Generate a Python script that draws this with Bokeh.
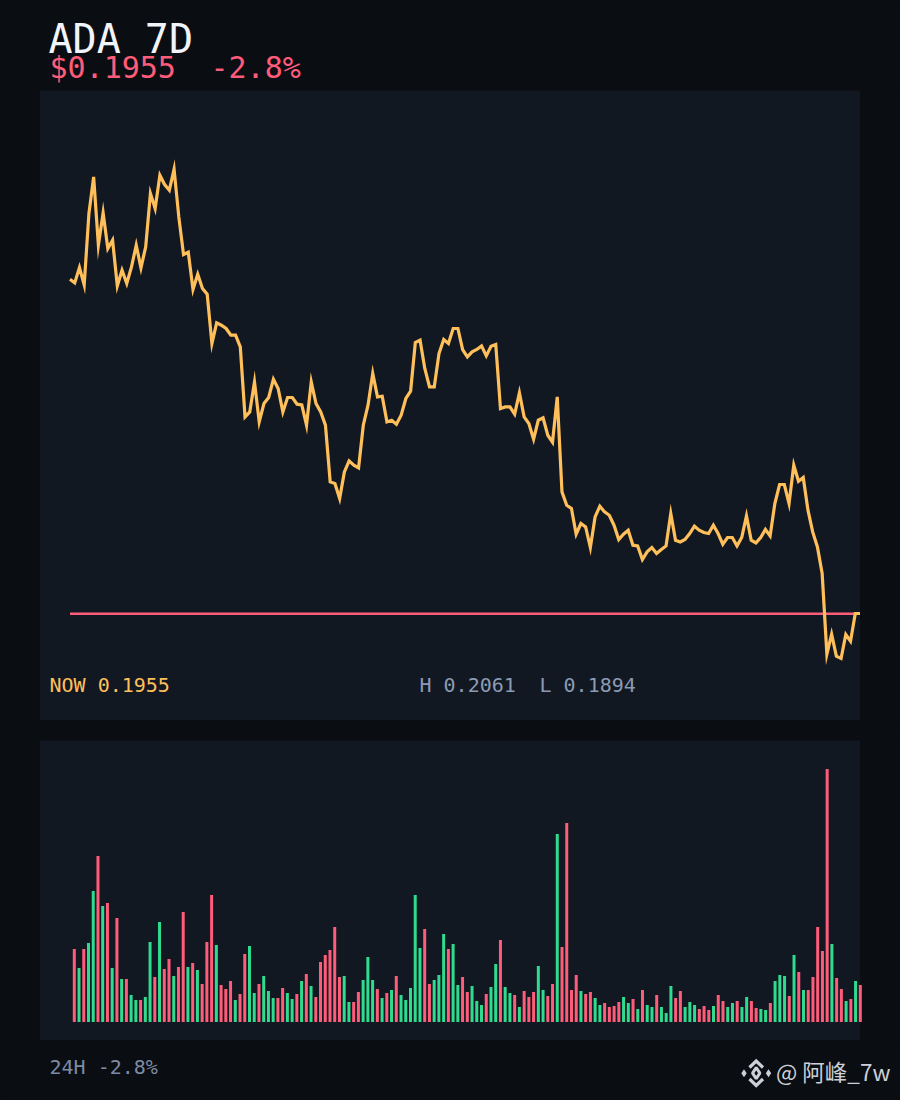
from bokeh.plotting import figure
from bokeh.layouts import column
from bokeh.models import Label, BoxAnnotation, Range1d
from bokeh.embed import file_html
from bokeh.resources import INLINE

# Hourly price, in units of 0.0001
price_bp = [
 2289.5,2285.8,2301.2,2283.8,2355.2,2391.8,2323.5,2355.8,2320.2,2328.5,2282.8,2298.5,2285.2,2301.8,2323.5,2300.8,
 2321.8,2375.2,2360.2,2393.5,2384.2,2378.5,2399.5,2351.8,2314.2,2316.5,2279.2,2294.5,2280.2,2274.5,2225.2,2245.8,
 2243.5,2240.2,2233.5,2233.5,2221.8,2151.8,2156.8,2186.8,2146.8,2165.2,2171.2,2189.5,2180.2,2156.8,2171.2,2171.2,
 2164.5,2163.8,2143.5,2186.8,2165.2,2156.8,2143.5,2086.8,2085.2,2070.2,2096.8,2107.8,2103.5,2100.8,2143.5,2163.5,
 2195.2,2171.8,2172.5,2146.8,2148.5,2144.5,2153.5,2170.2,2177.5,2226.2,2228.5,2200.2,2181.8,2181.8,2215.2,2229.2,
 2225.2,2240.2,2240.2,2219.2,2211.8,2216.8,2219.2,2222.8,2212.8,2222.5,2224.2,2160.2,2161.8,2161.8,2154.5,2175.8,
 2151.8,2145.2,2129.5,2148.5,2150.8,2133.5,2126.5,2171.8,2076.8,2063.5,2060.2,2034.5,2045.2,2041.8,2021.2,2051.8,
 2062.5,2056.8,2053.5,2043.5,2029.2,2034.5,2038.5,2023.5,2022.8,2009.2,2016.8,2021.2,2015.2,2019.2,2022.8,2055.2,
 2028.5,2026.8,2029.2,2035.2,2042.5,2038.5,2036.2,2035.2,2043.5,2035.2,2024.5,2031.2,2031.2,2022.8,2031.2,2052.8,
 2028.5,2025.8,2031.2,2039.2,2032.8,2065.2,2084.2,2084.2,2065.2,2103.5,2087.5,2091.2,2058.5,2036.8,2021.8,1995.2,
 1914.5,1934.5,1912.5,1910.2,1934.2,1927.5,1955.2,1955.2]
reference_bp = 1955

# Volume bars (arbitrary units)
volume = [
 73,54,73,79,131,166,116,119,54,104,43,43,27,22,22,25,80,45,100,53,63,46,55,110,55,59,52,38,80,127,77,37,33,41,
 22,28,68,76,29,38,46,31,24,24,34,29,23,28,41,48,36,25,60,67,72,95,45,46,20,20,30,42,65,42,33,24,29,32,46,27,
 22,34,127,74,93,38,42,47,88,73,78,37,45,30,36,21,17,28,35,58,82,35,29,27,15,31,25,30,56,32,26,38,188,75,199,
 32,47,31,28,30,24,17,19,15,16,20,25,19,23,13,32,17,15,27,15,9,36,24,31,15,20,17,13,16,12,16,27,21,15,19,21,15,
 25,21,14,13,12,19,41,47,46,26,67,50,32,32,45,95,71,253,78,44,33,21,23,41,37]
# 1 = up (green), 0 = down (red)
volume_up = [
 0,1,0,1,1,0,1,0,1,0,1,0,1,1,0,1,1,0,1,0,0,1,0,0,1,0,1,0,0,0,1,0,0,0,1,0,0,1,1,0,1,1,1,0,0,1,1,0,1,0,1,0,0,0,0,
 0,0,1,1,0,0,1,1,1,0,1,0,1,0,1,1,1,1,1,0,0,1,1,1,0,1,1,0,0,1,1,1,0,1,1,0,1,1,0,1,0,0,0,1,1,0,0,1,0,0,0,0,1,0,0,
 1,1,0,0,0,0,1,1,0,1,0,1,1,0,1,1,1,0,0,1,1,1,0,0,0,1,0,0,1,1,0,1,1,0,0,1,1,0,1,1,1,0,1,0,1,0,0,0,0,0,1,0,0,1,0,1,0]

title_text = "ADA 7D"
price_text = "$0.1955"
change_text = "-2.8%"
now_text = "NOW 0.1955"
high_text = "H 0.2061"
low_text = "L 0.1894"
footer_text = "24H -2.8%"
mark_text = "@ 阿峰_7w"

BG = "#0a0d12"
PANEL = "#111822"
RED = "#ff5c7a"
GREEN = "#2fdc8f"
AMBER = "#ffbf5a"
GREY = "#8c9bb4"
MARK = "#cdd1d7"
MONO = "DejaVu Sans Mono"


def make(h, xr, yr, **kw):
    f = figure(width=900, height=h, x_range=xr, y_range=yr, output_backend="svg",
               toolbar_location=None, min_border=0, background_fill_color=BG,
               border_fill_color=BG, outline_line_color=None, **kw)
    f.axis.visible = False
    f.grid.visible = False
    return f


def panel(f, top, bottom):
    # screen units here count upward from the bottom of the figure
    f.add_layout(BoxAnnotation(left=39.5, right=859.5, top=top, bottom=bottom,
                               left_units="screen", right_units="screen",
                               top_units="screen", bottom_units="screen",
                               fill_color=PANEL, fill_alpha=1, line_alpha=0, level="underlay"))


def label(f, text, x, y, size, color, font=MONO):
    f.add_layout(Label(x=x, y=y, x_units="screen", y_units="screen", text=text,
                       text_font=font, text_font_size=f"{size}px", text_color=color,
                       text_baseline="alphabetic", text_align="left"))


# Header
head = make(90, Range1d(0, 900), Range1d(0, 90))
label(head, title_text, 48, 52, 40, "#f1f4f8")
label(head, price_text, 49, 23, 30, RED)
label(head, change_text, 210, 23, 30, RED)

# Price
dx = 790.0 / (len(price_bp) - 1)
pxr = Range1d(-69.5 / dx, 830.5 / dx)
pr = make(630, pxr, Range1d(1848.2, 2478.2))
panel(pr, 630.5, 0.5)
idx = list(range(len(price_bp)))
pr.line([0, idx[-1]], [reference_bp, reference_bp], line_color=RED, line_width=2.6)
pr.line(idx, price_bp, line_color=AMBER, line_width=3.2, line_join="miter")
label(pr, now_text, 49, 36, 20, AMBER)
label(pr, high_text, 419, 36, 20, GREY)
label(pr, low_text, 539, 36, 20, GREY)

# Volume
bx = 4.735
vxr = Range1d(-73.8 / bx, (900 - 73.8) / bx)
vol = make(320, vxr, Range1d(-18.5, 281.5), min_border_top=20)
panel(vol, 300.5, 0.5)
vidx = list(range(len(volume)))
colors = [GREEN if u else RED for u in volume_up]
vol.vbar(x=vidx, top=volume, bottom=0, width=3 / bx, fill_color=colors, line_color=None)

# Footer
foot = make(60, Range1d(0, 900), Range1d(60, 0))
label(foot, footer_text, 49, 34, 20, "#7d8ba3")
label(foot, mark_text, 775.5, 30, 22.5, MARK, font="Noto Sans CJK SC")
foot.scatter([743.5, 768], [32.7, 32.7], marker="diamond", size=8, fill_color=MARK, line_color=None)
foot.scatter([755.7], [32.7], marker="diamond", size=11, fill_color=None, line_color=MARK, line_width=3)
foot.multi_line([[749, 755.7, 762.5], [749, 755.7, 762.5]], [[27, 20.5, 27], [38.5, 45, 38.5]],
                line_color=MARK, line_width=3.2, line_join="miter")

page = column(head, pr, vol, foot, spacing=0)
html = file_html(page, INLINE)
html = html.replace("</head>", f"<style>html,body{{margin:0;padding:0;background:{BG};}}</style></head>", 1)
open("out.html", "w").write(html)
